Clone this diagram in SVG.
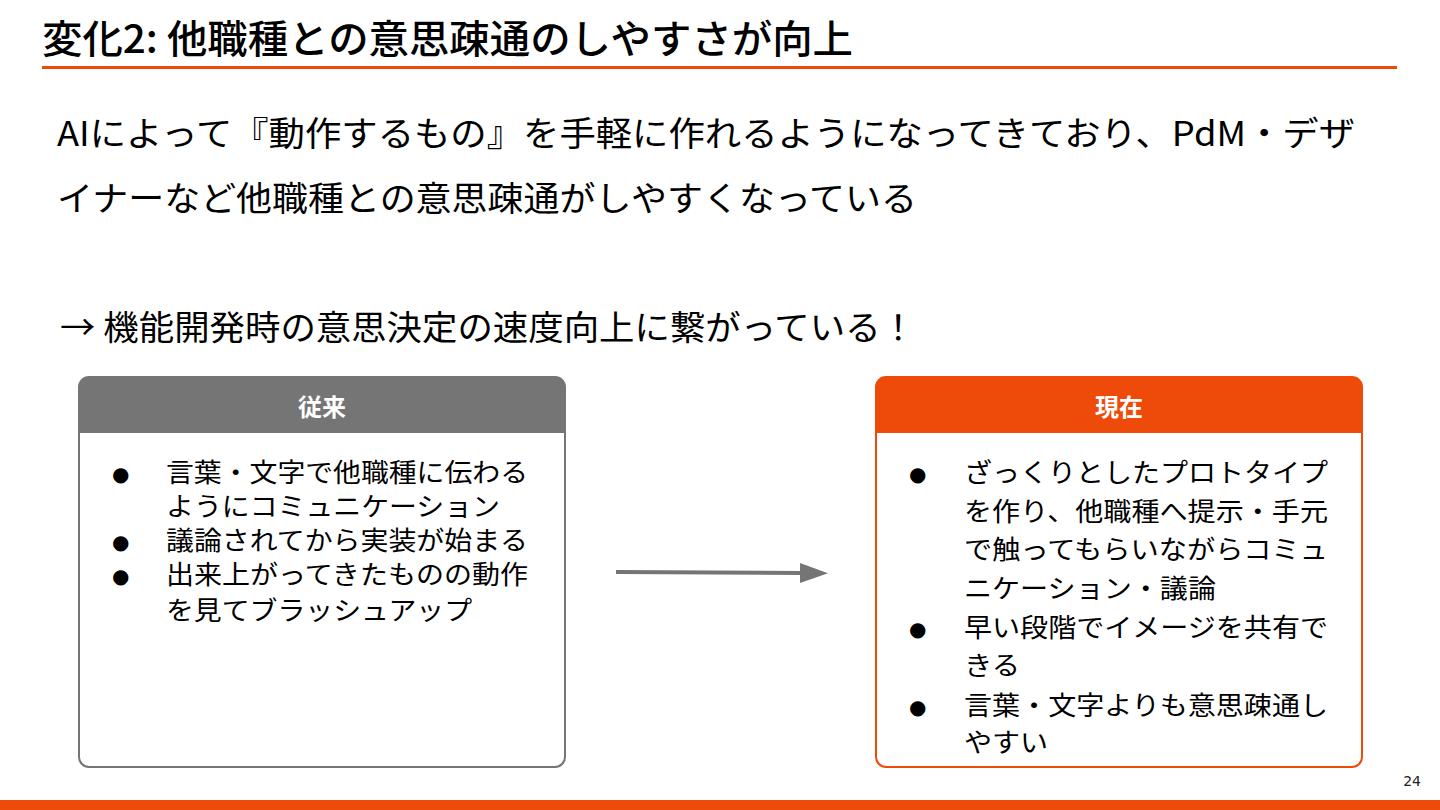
<svg xmlns="http://www.w3.org/2000/svg" width="1440" height="810" viewBox="0 0 1440 810">
<style>
.jp{font-family:"Noto Sans CJK JP","Noto Sans",sans-serif;fill:#000}
.title{font-size:39px;font-weight:500}
.body{font-size:34px}
.item{font-size:26px}
.head{font-size:24px;font-weight:bold;fill:#fff;text-anchor:middle}
.bul{font-family:"DejaVu Sans",sans-serif;font-size:20px;fill:#000}
</style>
<defs>
<marker id="ah" markerWidth="7" markerHeight="5" refX="0" refY="2.5" orient="auto" markerUnits="strokeWidth">
<path d="M0,0 L7,2.5 L0,5 Z" fill="#757575"/>
</marker>
</defs>
<rect width="1440" height="810" fill="#fff"/>
<g id="title">
<text class="jp title" x="42" y="53" textLength="811" lengthAdjust="spacingAndGlyphs">変化2: 他職種との意思疎通のしやすさが向上</text>
<rect x="42" y="66" width="1355" height="3" fill="#EE4B0B"/>
</g>
<g id="intro">
<text class="jp body" x="57" y="146" textLength="1298" lengthAdjust="spacingAndGlyphs">AIによって『動作するもの』を手軽に作れるようになってきており、PdM・デザ</text>
<text class="jp body" x="57" y="211" textLength="860" lengthAdjust="spacingAndGlyphs">イナーなど他職種との意思疎通がしやすくなっている</text>
<text class="jp body" x="60" y="340" textLength="856" lengthAdjust="spacingAndGlyphs">→ 機能開発時の意思決定の速度向上に繋がっている！</text>
</g>
<g id="before">
<rect x="79" y="377" width="486" height="390" rx="10" fill="#fff" stroke="#757575" stroke-width="2"/>
<path d="M79,433 V387 a10,10 0 0 1 10,-10 H555 a10,10 0 0 1 10,10 V433 Z" fill="#757575"/>
<text class="jp head" x="322" y="416">従来</text>
<text class="bul" x="112" y="481">●</text>
<text class="jp item" x="166" y="482" textLength="362" lengthAdjust="spacingAndGlyphs">言葉・文字で他職種に伝わる</text>
<text class="jp item" x="166" y="516" textLength="334" lengthAdjust="spacingAndGlyphs">ようにコミュニケーション</text>
<text class="bul" x="112" y="549">●</text>
<text class="jp item" x="166" y="550" textLength="362" lengthAdjust="spacingAndGlyphs">議論されてから実装が始まる</text>
<text class="bul" x="112" y="583">●</text>
<text class="jp item" x="166" y="584" textLength="362" lengthAdjust="spacingAndGlyphs">出来上がってきたものの動作</text>
<text class="jp item" x="166" y="620" textLength="306" lengthAdjust="spacingAndGlyphs">を見てブラッシュアップ</text>
</g>
<g id="connectors">
<line x1="616" y1="572" x2="800" y2="573" stroke="#757575" stroke-width="4" marker-end="url(#ah)"/>
</g>
<g id="now">
<rect x="876" y="377" width="486" height="390" rx="10" fill="#fff" stroke="#EE4B0B" stroke-width="2"/>
<path d="M876,433 V387 a10,10 0 0 1 10,-10 H1352 a10,10 0 0 1 10,10 V433 Z" fill="#EE4B0B"/>
<text class="jp head" x="1119" y="416">現在</text>
<text class="bul" x="909" y="481">●</text>
<text class="jp item" x="964" y="482" textLength="364" lengthAdjust="spacingAndGlyphs">ざっくりとしたプロトタイプ</text>
<text class="jp item" x="964" y="521" textLength="364" lengthAdjust="spacingAndGlyphs">を作り、他職種へ提示・手元</text>
<text class="jp item" x="964" y="559" textLength="364" lengthAdjust="spacingAndGlyphs">で触ってもらいながらコミュ</text>
<text class="jp item" x="964" y="598" textLength="252" lengthAdjust="spacingAndGlyphs">ニケーション・議論</text>
<text class="bul" x="909" y="636">●</text>
<text class="jp item" x="964" y="637" textLength="364" lengthAdjust="spacingAndGlyphs">早い段階でイメージを共有で</text>
<text class="jp item" x="964" y="675" textLength="56" lengthAdjust="spacingAndGlyphs">きる</text>
<text class="bul" x="909" y="714">●</text>
<text class="jp item" x="964" y="715" textLength="364" lengthAdjust="spacingAndGlyphs">言葉・文字よりも意思疎通し</text>
<text class="jp item" x="964" y="752" textLength="84" lengthAdjust="spacingAndGlyphs">やすい</text>
</g>
<g id="footer">
<text x="1421" y="786" font-family="DejaVu Sans,sans-serif" font-size="14" fill="#222" text-anchor="end">24</text>
<rect x="0" y="800" width="1440" height="10" fill="#EE4B0B"/>
</g>
</svg>
